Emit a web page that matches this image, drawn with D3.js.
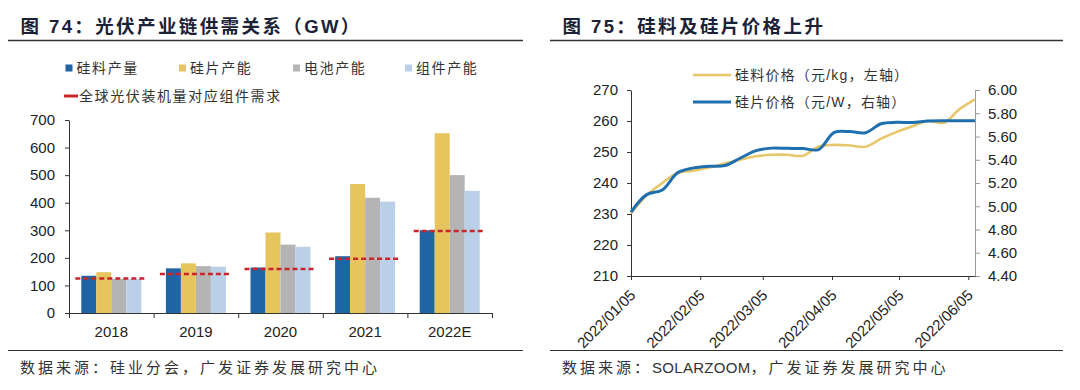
<!DOCTYPE html>
<html>
<head>
<meta charset="utf-8">
<script src="https://cdn.jsdelivr.net/npm/d3@7"></script>
<style>
  body { margin: 0; background: #fff; }
  svg { display: block; font-family: "Liberation Sans", Arial, "Noto Sans CJK SC", sans-serif; }
</style>
</head>
<body>
<svg id="chart" width="1080" height="390"></svg>
<script>
// ---- data: figure 74 (GW) ----
const years = ['2018', '2019', '2020', '2021', '2022E']
const siliconOutput = [135, 162, 165, 206, 300]
const waferCapacity = [148, 180, 292, 468, 652]
const cellCapacity = [123, 170, 248, 418, 500]
const moduleCapacity = [123, 168, 240, 404, 443]
const moduleDemand = [125, 141, 160, 197, 297]
const barNames = ['硅料产量', '硅片产能', '电池产能', '组件产能']
const demandName = '全球光伏装机量对应组件需求'
const yTicksLeft = [0, 100, 200, 300, 400, 500, 600, 700]

// ---- data: figure 75 (weekly prices) ----
const weekDates = ['2022-01-05', '2022-01-12', '2022-01-19', '2022-01-26', '2022-02-02', '2022-02-09',
  '2022-02-16', '2022-02-23', '2022-03-02', '2022-03-09', '2022-03-16', '2022-03-23', '2022-03-30',
  '2022-04-06', '2022-04-13', '2022-04-20', '2022-04-27', '2022-05-04', '2022-05-11', '2022-05-18',
  '2022-05-25', '2022-06-01', '2022-06-08']
const polyPrice = [230.2, 236, 240, 243.2, 244, 245, 246.3, 247.5, 248.6, 249.1, 249.1, 248.8,
  251.8, 252.3, 252.1, 251.7, 254.3, 256.5, 258.3, 260, 259.4, 263.8, 267]
const waferPrice = [4.95, 5.10, 5.14, 5.29, 5.33, 5.344, 5.35, 5.415, 5.478, 5.50, 5.498, 5.496,
  5.488, 5.635, 5.642, 5.633, 5.71, 5.722, 5.72, 5.733, 5.736, 5.736, 5.736]
const dateTicks = ['2022-01-05', '2022-02-05', '2022-03-05', '2022-04-05', '2022-05-05', '2022-06-05']
const leftPriceTicks = [210, 220, 230, 240, 250, 260, 270]
const rightPriceTicks = [4.4, 4.6, 4.8, 5.0, 5.2, 5.4, 5.6, 5.8, 6.0]
const lineNames = ['硅料价格（元/kg，左轴）', '硅片价格（元/W，右轴）']

const svg = d3.select('#chart')
const ink = '#222'

// title, rule lines and source note of one panel
// source is a list of [text, isLatin] pieces so latin runs are not spaced out
function panel(x0, x1, title, source) {
  svg.append('text').attr('x', x0 + 12.5).attr('y', 26)
    .attr('dominant-baseline', 'central')
    .attr('font-size', 18.5).attr('font-weight', 'bold').attr('letter-spacing', 2.4)
    .attr('fill', '#1b2236').text(title)
  svg.append('line').attr('x1', x0).attr('x2', x1).attr('y1', 40.5).attr('y2', 40.5)
    .attr('stroke', '#333').attr('stroke-width', 1.3)
  svg.append('line').attr('x1', x0).attr('x2', x1).attr('y1', 350.5).attr('y2', 350.5)
    .attr('stroke', '#333').attr('stroke-width', 1)
  const note = svg.append('text').attr('x', x0 + 12).attr('y', 367)
    .attr('dominant-baseline', 'central')
    .attr('font-size', 15).attr('fill', '#333')
  source.forEach(([t, latin]) => {
    note.append('tspan').attr('letter-spacing', latin ? 0.3 : 3).text(t)
  })
}

function styleAxis(g, color) {
  g.selectAll('text').attr('font-size', 15).attr('fill', ink)
  g.selectAll('path, line').attr('stroke', color || '#333')
}

// ================= left: figure 74 =================
panel(8, 523, '图 74：光伏产业链供需关系（GW）', [['数据来源：硅业分会，广发证券发展研究中心', false]])

const xL = d3.scaleBand().domain(years).range([69, 492])
const yL = d3.scaleLinear().domain([0, 700]).range([313, 120])
const xSub = d3.scaleBand().domain(d3.range(4)).range([0, xL.bandwidth()]).paddingOuter(0.82)
const barColors = ['#1f64a3', '#e6c55f', '#b4b4b4', '#b9d0e8']
const barSeries = [siliconOutput, waferCapacity, cellCapacity, moduleCapacity]

const bars = svg.append('g').attr('class', 'bars')
barSeries.forEach((vals, s) => {
  bars.append('g').attr('fill', barColors[s])
    .selectAll('rect').data(vals).enter().append('rect')
    .attr('x', (d, i) => xL(years[i]) + xSub(s))
    .attr('width', xSub.bandwidth())
    .attr('y', d => yL(d))
    .attr('height', d => yL(0) - yL(d))
})

svg.append('g').attr('class', 'demand')
  .selectAll('line').data(moduleDemand).enter().append('line')
  .attr('x1', (d, i) => xL(years[i]) + xSub(0) - 6)
  .attr('x2', (d, i) => xL(years[i]) + xSub(3) + xSub.bandwidth() + 6)
  .attr('y1', d => yL(d)).attr('y2', d => yL(d))
  .attr('stroke', '#c8262b').attr('stroke-width', 2.5).attr('stroke-dasharray', '5,3')

const yAxisL = svg.append('g').attr('transform', 'translate(69,0)')
  .call(d3.axisLeft(yL).tickValues(yTicksLeft).tickSize(4).tickSizeOuter(0).tickPadding(10))
styleAxis(yAxisL)

// tick marks sit on the category boundaries
const bounds = d3.scaleLinear().domain([0, years.length]).range(xL.range())
const xTicksL = svg.append('g').attr('transform', 'translate(0,313)')
  .call(d3.axisBottom(bounds).ticks(years.length).tickSize(5).tickSizeOuter(0).tickFormat(() => ''))
styleAxis(xTicksL)
const xLabelsL = svg.append('g').attr('transform', 'translate(0,313)')
  .call(d3.axisBottom(xL).tickSize(0).tickPadding(13))
xLabelsL.select('.domain').remove()
styleAxis(xLabelsL)

// legend
const legL = svg.append('g').attr('font-size', 14).attr('letter-spacing', 1.6).attr('fill', '#333')
const legX = [65.5, 179, 293, 405]
barNames.forEach((name, s) => {
  legL.append('rect').attr('x', legX[s]).attr('y', 64.5).attr('width', 7).attr('height', 7)
    .attr('fill', barColors[s])
  legL.append('text').attr('x', legX[s] + 11).attr('y', 68).attr('dominant-baseline', 'central').text(name)
})
legL.append('line').attr('x1', 64).attr('x2', 78).attr('y1', 96).attr('y2', 96)
  .attr('stroke', '#c8262b').attr('stroke-width', 3)
legL.append('text').attr('x', 79).attr('y', 96).attr('dominant-baseline', 'central').text(demandName)

// ================= right: figure 75 =================
panel(550, 1063, '图 75：硅料及硅片价格上升',
  [['数据来源：', false], ['SOLARZOOM', true], ['，广发证券发展研究中心', false]])

const parse = d3.timeParse('%Y-%m-%d')
const dates = weekDates.map(parse)
const xR = d3.scaleTime().domain([dates[0], dates[dates.length - 1]]).range([631, 975])
const yPoly = d3.scaleLinear().domain([210, 270]).range([276, 90])
const yWafer = d3.scaleLinear().domain([4.4, 6.0]).range([276, 90])

const axisLeftR = svg.append('g').attr('transform', 'translate(631,0)')
  .call(d3.axisLeft(yPoly).tickValues(leftPriceTicks).tickSize(4).tickSizeOuter(0).tickPadding(9))
styleAxis(axisLeftR)
const axisRightR = svg.append('g').attr('transform', 'translate(975,0)')
  .call(d3.axisRight(yWafer).tickValues(rightPriceTicks).tickSize(5).tickSizeOuter(0).tickPadding(8)
    .tickFormat(d3.format('.2f')))
styleAxis(axisRightR, '#9a9a9a')

const axisBottomR = svg.append('g').attr('transform', 'translate(0,276)')
  .call(d3.axisBottom(xR).tickValues(dateTicks.map(parse)).tickSize(4).tickSizeOuter(0)
    .tickFormat(d3.timeFormat('%Y/%m/%d')))
styleAxis(axisBottomR)
axisBottomR.selectAll('text')
  .attr('x', 0).attr('y', 0).attr('dy', 0)
  .attr('text-anchor', 'end')
  .attr('transform', 'translate(5,20) rotate(-45)')

const curve = d3.curveCatmullRom.alpha(0.5)
const polyLine = d3.line().x((d, i) => xR(dates[i])).y(d => yPoly(d)).curve(curve)
const waferLine = d3.line().x((d, i) => xR(dates[i])).y(d => yWafer(d)).curve(curve)
const lineColors = ['#e8c76a', '#1f6fae']

svg.append('path').datum(polyPrice).attr('d', polyLine)
  .attr('fill', 'none').attr('stroke', lineColors[0]).attr('stroke-width', 2.6)
svg.append('path').datum(waferPrice).attr('d', waferLine)
  .attr('fill', 'none').attr('stroke', lineColors[1]).attr('stroke-width', 3)

const legR = svg.append('g').attr('font-size', 14).attr('letter-spacing', 1.2).attr('fill', '#333')
;[75, 102].forEach((y, k) => {
  legR.append('line').attr('x1', 693).attr('x2', 731).attr('y1', y).attr('y2', y)
    .attr('stroke', lineColors[k]).attr('stroke-width', k ? 3 : 2.6)
  legR.append('text').attr('x', 735).attr('y', y).attr('dominant-baseline', 'central').text(lineNames[k])
})
</script>
</body>
</html>
